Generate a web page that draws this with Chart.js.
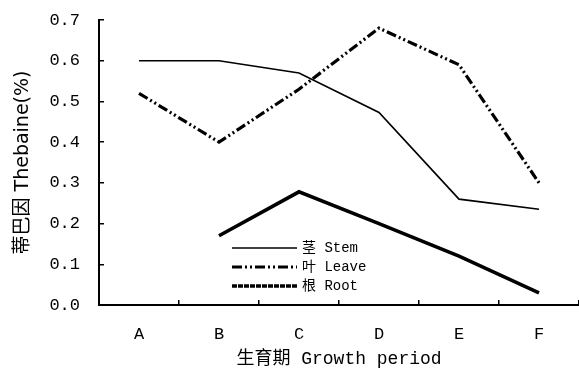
<!DOCTYPE html>
<html>
<head>
<meta charset="utf-8">
<script src="https://cdn.jsdelivr.net/npm/chart.js@4"></script>
<style>
  html, body { margin: 0; padding: 0; background: #fff; }
  #wrap { width: 579px; height: 370px; }
</style>
</head>
<body>
<div id="wrap"><canvas id="lineChart"></canvas></div>
<script>
// 数据
const periods = ["A", "B", "C", "D", "E", "F"];
const stemValues = [0.60, 0.60, 0.57, 0.473, 0.26, 0.235];
const leaveValues = [0.52, 0.40, 0.53, 0.68, 0.59, 0.30];
const rootValues = [null, 0.17, 0.278, 0.20, 0.12, 0.03];
const seriesNames = ["茎 Stem", "叶 Leave", "根 Root"];
const yTicks = ["0.0", "0.1", "0.2", "0.3", "0.4", "0.5", "0.6", "0.7"];

const monoFont = '"Liberation Mono", "Noto Sans CJK SC"';

// 图例 (画在图内)
const legendInside = {
    id: "legendInside",
    afterDatasetsDraw(chart) {
        const ctx = chart.ctx;
        const x0 = 232, x1 = 297;
        const rows = [248, 267, 286];
        const legendDash = [[], [10, 3, 2, 3, 2, 3], [5, 1]];
        ctx.save();
        chart.data.datasets.forEach((ds, i) => {
            ctx.beginPath();
            ctx.strokeStyle = ds.borderColor;
            ctx.lineWidth = ds.borderWidth;
            ctx.setLineDash(legendDash[i]);
            ctx.moveTo(x0, rows[i]);
            ctx.lineTo(x1, rows[i]);
            ctx.stroke();
            ctx.setLineDash([]);
            ctx.fillStyle = "#000";
            ctx.font = "14px " + monoFont;
            ctx.textBaseline = "middle";
            ctx.fillText(ds.label, x1 + 5, rows[i]);
        });
        ctx.restore();
    }
};

const data = {
    labels: periods,
    datasets: [{
        label: seriesNames[0],
        data: stemValues,
        borderColor: "#000",
        borderWidth: 1.6,
        pointRadius: 0,
        tension: 0
    }, {
        label: seriesNames[1],
        data: leaveValues,
        borderColor: "#000",
        borderWidth: 3.2,
        borderDash: [10, 3, 2, 3, 2, 3],
        pointRadius: 0,
        tension: 0
    }, {
        label: seriesNames[2],
        data: rootValues,
        borderColor: "#000",
        borderWidth: 3.6,
        pointRadius: 0,
        tension: 0
    }]
};

const config = {
    type: "line",
    data: data,
    plugins: [legendInside],
    options: {
        responsive: true,
        maintainAspectRatio: false,
        animation: false,
        layout: { padding: { top: 20, right: 0, left: 0, bottom: 0 } },
        plugins: {
            legend: { display: false },
            tooltip: { enabled: false }
        },
        scales: {
            x: {
                offset: true,
                grid: {
                    offset: true,
                    drawOnChartArea: false,
                    drawTicks: true,
                    tickLength: -5,
                    color: "#000",
                    lineWidth: 1.5
                },
                border: { color: "#000", width: 2 },
                ticks: {
                    color: "#000",
                    padding: 24,
                    maxRotation: 0,
                    font: { family: monoFont, size: 17 }
                },
                title: {
                    display: true,
                    text: "生育期 Growth period",
                    color: "#000",
                    padding: { top: 0, bottom: 0 },
                    font: { family: monoFont, size: 18 }
                },
                afterFit: (scale) => { scale.height = 65; }
            },
            y: {
                min: 0,
                max: 0.7,
                grid: {
                    drawOnChartArea: false,
                    drawTicks: true,
                    tickLength: -5,
                    color: "#000",
                    lineWidth: 1.5
                },
                border: { color: "#000", width: 2 },
                ticks: {
                    stepSize: 0.1,
                    color: "#000",
                    padding: 24,
                    font: { family: monoFont, size: 17 },
                    callback: function (value, index) {
                        return yTicks[index];
                    }
                },
                title: {
                    display: true,
                    text: "蒂巴因 Thebaine(%)",
                    color: "#000",
                    padding: { top: 12, bottom: 0 },
                    font: { family: '"DejaVu Sans", "Noto Sans CJK SC"', size: 19 }
                },
                afterFit: (scale) => {
                    scale.width = 99;
                    scale.paddingTop = 0;
                    scale.paddingBottom = 0;
                }
            }
        }
    }
};

const lineChart = new Chart(document.getElementById("lineChart").getContext("2d"), config);
</script>
</body>
</html>
